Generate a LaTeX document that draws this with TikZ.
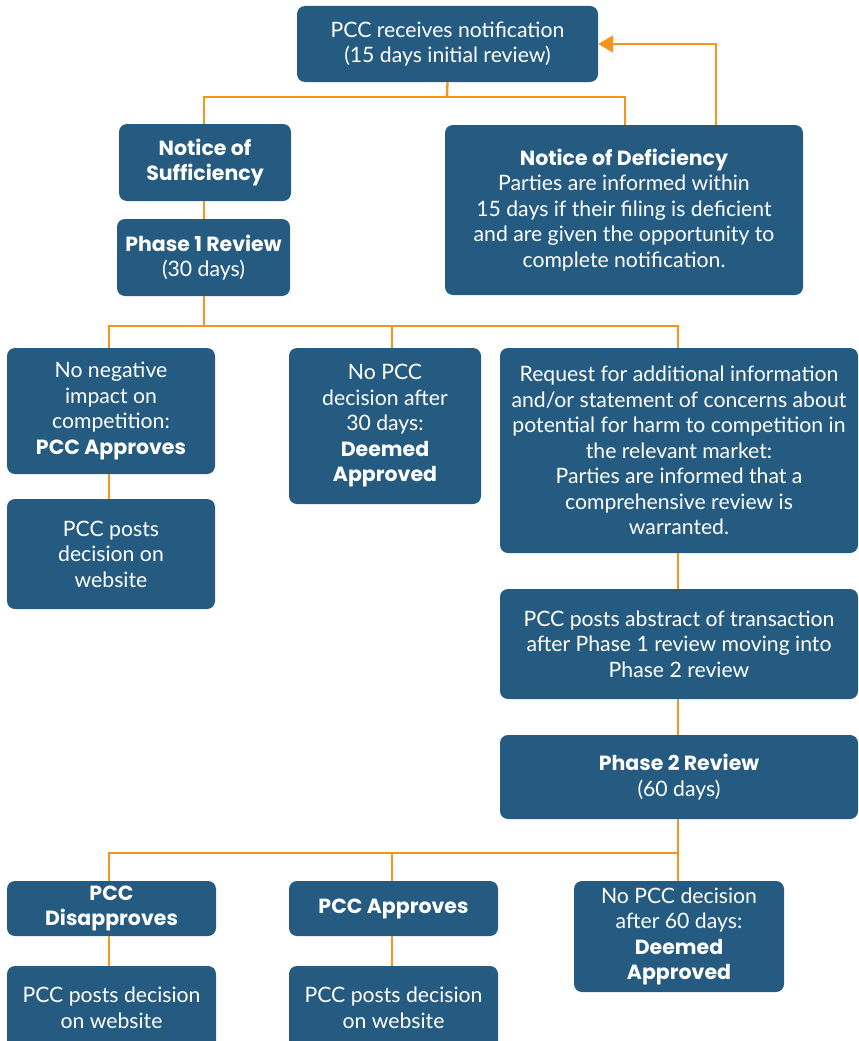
\documentclass[tikz,border=0pt]{standalone}
\usepackage{fontspec}
\setmainfont{Lato}
\newfontfamily\hfont{Poppins}
\usetikzlibrary{arrows.meta}
\definecolor{boxblue}{RGB}{37,91,128}
\definecolor{conorange}{RGB}{247,148,29}
\newcommand{\hb}[1]{{\hfont\bfseries\fontsize{20.5}{25.5}\selectfont #1}}
\begin{document}
\begin{tikzpicture}[x=1pt,y=-1pt,
  box/.style={draw=none,fill=boxblue,rounded corners=8pt,text=white,align=center,
    inner sep=0pt,font=\fontsize{21.2}{25.5}\selectfont},
  conn/.style={draw=conorange,line width=2.3pt}]
\useasboundingbox (0,0) rectangle (859,1041);
\clip (0,0) rectangle (859,1041);
\node[box,minimum width=301pt,minimum height=76pt] (top) at (447.5,44) {PCC receives notification\\(15 days initial review)};
\node[box,minimum width=172pt,minimum height=77pt] (suff) at (205,162.5) {\hb{Notice of}\\\hb{Sufficiency}};
\node[box,minimum width=358pt,minimum height=170pt] (def) at (624,210) {\hb{Notice of Deficiency}\\Parties are informed within\\15 days if their filing is deficient\\and are given the opportunity to\\complete notification.};
\node[box,minimum width=173pt,minimum height=77pt] (p1) at (203.5,257.5) {\hb{Phase 1 Review}\\(30 days)};
\node[box,minimum width=208pt,minimum height=126pt] (neg) at (111,411) {No negative\\impact on\\competition:\\\hb{PCC Approves}};
\node[box,minimum width=208pt,minimum height=110pt] (post1) at (111,554) {PCC posts\\decision on\\website};
\node[box,minimum width=192pt,minimum height=156pt] (dec30) at (385,426) {No PCC\\decision after\\30 days:\\\hb{Deemed}\\\hb{Approved}};
\node[box,minimum width=358pt,minimum height=205pt] (req) at (679,450.5) {Request for additional information\\and/or statement of concerns about\\potential for harm to competition in\\the relevant market:\\Parties are informed that a\\comprehensive review is\\warranted.};
\node[box,minimum width=358pt,minimum height=110pt] (abs) at (679,644) {PCC posts abstract of transaction\\after Phase 1 review moving into\\Phase 2 review};
\node[box,minimum width=358pt,minimum height=84pt] (p2) at (679,777) {\hb{Phase 2 Review}\\(60 days)};
\node[box,minimum width=209pt,minimum height=55pt] (dis) at (111.5,908.5) {\hb{PCC}\\\hb{Disapproves}};
\node[box,minimum width=209pt,minimum height=55pt] (app) at (393.5,908.5) {\hb{PCC Approves}};
\node[box,minimum width=210pt,minimum height=111pt] (dec60) at (679,936.5) {No PCC decision\\after 60 days:\\\hb{Deemed}\\\hb{Approved}};
\node[box,minimum width=209pt,minimum height=84pt] (post2) at (111.5,1008) {PCC posts decision\\on website};
\node[box,minimum width=209pt,minimum height=84pt] (post3) at (393.5,1008) {PCC posts decision\\on website};
% connectors
\coordinate (j1) at (447,97);
\coordinate (j2) at (204,326);
\coordinate (j3) at (678,853);
\draw[conn] (top.south) -- (j1);
\draw[conn] (j1) -| ([xshift=-1pt]suff.north);
\draw[conn] (j1) -| ([xshift=1pt]def.north);
\draw[conn,-{Triangle[length=15pt,width=17pt]}] ([xshift=92pt]def.north) |- (top.east);
\draw[conn] ([xshift=-1pt]suff.south) -- ([xshift=0.5pt]p1.north);
\draw[conn] ([xshift=0.5pt]p1.south) -- (j2);
\draw[conn] (j2) -| ([xshift=-2pt]neg.north);
\draw[conn] (j2) -| ([xshift=7pt]dec30.north);
\draw[conn] (j2) -| ([xshift=-1pt]req.north);
\draw[conn] ([xshift=-2pt]neg.south) -- ([xshift=-2pt]post1.north);
\draw[conn] ([xshift=-1pt]req.south) -- ([xshift=-1pt]abs.north);
\draw[conn] ([xshift=-1pt]abs.south) -- ([xshift=-1pt]p2.north);
\draw[conn] ([xshift=-1pt]p2.south) -- (j3);
\draw[conn] (j3) -| ([xshift=-2.5pt]dis.north);
\draw[conn] (j3) -| ([xshift=-1.5pt]app.north);
\draw[conn] (j3) -| ([xshift=-1pt]dec60.north);
\draw[conn] ([xshift=-2.5pt]dis.south) -- ([xshift=-2.5pt]post2.north);
\draw[conn] ([xshift=-1.5pt]app.south) -- ([xshift=-1.5pt]post3.north);
\end{tikzpicture}
\end{document}
